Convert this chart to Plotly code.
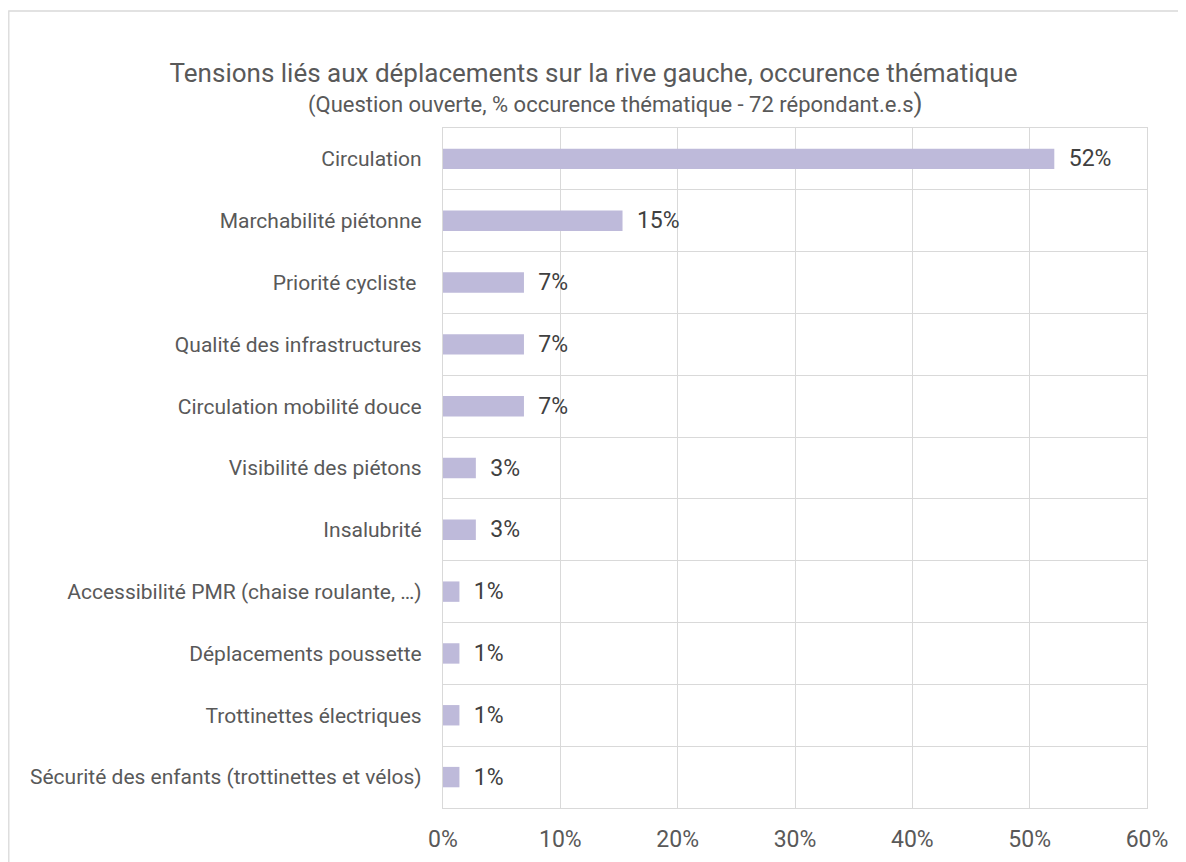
import plotly.graph_objects as go

categories = [
    "Circulation",
    "Marchabilité piétonne",
    "Priorité cycliste ",
    "Qualité des infrastructures",
    "Circulation mobilité douce",
    "Visibilité des piétons",
    "Insalubrité",
    "Accessibilité PMR (chaise roulante, …)",
    "Déplacements poussette",
    "Trottinettes électriques",
    "Sécurité des enfants (trottinettes et vélos)",
]
values = [0.521, 0.153, 0.069, 0.069, 0.069, 0.028, 0.028, 0.014, 0.014, 0.014, 0.014]
x_ticks = [0, 0.1, 0.2, 0.3, 0.4, 0.5, 0.6]

FONT = "Roboto"
GRAY = "#595959"
GRID = "#D9D9D9"

# layout geometry (figure pixels)
ML, MR, MT, MB = 435, 47, 120, 62
W, H = 1186, 862
PW = W - ML - MR
PH = H - MT - MB

fig = go.Figure(
    go.Bar(
        y=categories,
        x=values,
        orientation="h",
        marker=dict(color="#BEBADA", line=dict(width=0)),
        width=0.33,
        texttemplate="\u00a0\u00a0%{x:.0%}",
        textposition="outside",
        constraintext="none",
        cliponaxis=False,
        textfont=dict(family=FONT, size=23, color="#404040"),
        hoverinfo="skip",
    )
)

fig.update_layout(
    width=W,
    height=H,
    paper_bgcolor="white",
    plot_bgcolor="white",
    showlegend=False,
    margin=dict(l=ML, r=MR, t=MT, b=MB),
    title=dict(
        text="Tensions liés aux déplacements sur la rive gauche, occurence thématique",
        x=585.5 / W,
        xanchor="center",
        y=1 - 65 / H,
        yanchor="middle",
        font=dict(family=FONT, size=26, color=GRAY),
    ),
    font=dict(family=FONT, color=GRAY),
)

fig.add_annotation(
    text="(Question ouverte, % occurence thématique - 72 répondant.e.s<span style='font-size:26px'>)</span>",
    xref="paper",
    yref="paper",
    x=(607 - ML) / PW,
    y=1 + (MT - 95) / PH,
    xanchor="center",
    yanchor="middle",
    showarrow=False,
    font=dict(family=FONT, size=22, color=GRAY),
)

fig.update_xaxes(
    range=[0, 0.6],
    tickvals=x_ticks,
    tickformat=".0%",
    showgrid=True,
    gridcolor=GRID,
    gridwidth=1.3,
    zeroline=False,
    showline=True,
    linecolor=GRID,
    linewidth=1.3,
    mirror=True,
    ticks="",
    ticklabelstandoff=10,
    tickfont=dict(family=FONT, size=23, color=GRAY),
    fixedrange=True,
)

fig.update_yaxes(
    type="category",
    autorange="reversed",
    tickson="boundaries",
    showgrid=True,
    gridcolor=GRID,
    gridwidth=1.3,
    showline=True,
    linecolor=GRID,
    linewidth=1.3,
    mirror=True,
    ticks="",
    ticklabelstandoff=16,
    tickfont=dict(family=FONT, size=21, color=GRAY),
    fixedrange=True,
)

# outer chart frame
fig.add_shape(
    type="rect",
    xref="paper",
    yref="paper",
    x0=-(ML - 0.8) / PW,
    x1=1 + 80 / PW,
    y0=-120 / PH,
    y1=1 + (MT - 3) / PH,
    line=dict(color=GRID, width=1.3),
    fillcolor="rgba(0,0,0,0)",
    layer="below",
)

fig.write_html("out.html")
